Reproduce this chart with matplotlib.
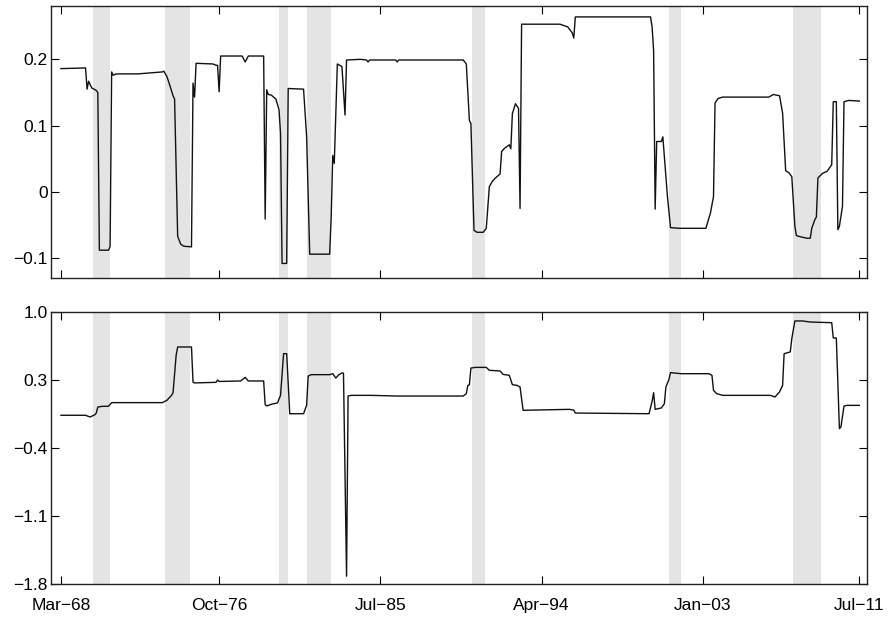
import matplotlib
matplotlib.use("Agg")
import matplotlib.pyplot as plt

plt.rcParams['font.family'] = ['Liberation Sans', 'DejaVu Sans']

# months counted from Mar-68 (0) to Jul-11 (520)
top_months = [0, 16, 17, 18, 20, 23, 24, 25, 31, 32, 33, 34, 36, 50, 66, 67, 69, 71, 73, 74,
              76, 78, 80, 85, 86, 87, 88, 99, 101, 102, 103, 104, 118, 120, 122, 132, 133, 134,
              135, 137, 140, 142, 143, 144, 147, 148, 158, 160, 162, 175, 176, 177, 178, 180,
              183, 185, 186, 195, 199, 200, 201, 218, 219, 220, 262, 264, 266, 267, 269, 271,
              275, 277, 279, 281, 283, 286, 287, 289, 292, 293, 294, 296, 298, 299, 300, 325,
              330, 333, 334, 335, 384, 385, 386, 387, 388, 391, 392, 394, 395, 397, 403, 420,
              423, 425, 426, 428, 431, 461, 464, 466, 468, 470, 472, 474, 476, 478, 479, 482,
              486, 488, 489, 491, 492, 493, 496, 499, 502, 503, 505, 506, 507, 509, 510, 513, 520]
top_values = [0.186, 0.187, 0.155, 0.167, 0.157, 0.153, 0.150, -0.088, -0.088, -0.082, 0.181,
              0.176, 0.178, 0.178, 0.181, 0.182, 0.174, 0.160, 0.145, 0.140, -0.067, -0.079,
              -0.082, -0.083, 0.164, 0.143, 0.194, 0.193, 0.191, 0.191, 0.151, 0.205, 0.205,
              0.196, 0.205, 0.205, -0.041, 0.154, 0.147, 0.146, 0.140, 0.124, 0.088, -0.108,
              -0.108, 0.156, 0.155, 0.083, -0.094, -0.094, -0.037, 0.055, 0.043, 0.193, 0.189,
              0.116, 0.199, 0.200, 0.199, 0.196, 0.199, 0.199, 0.196, 0.199, 0.199, 0.193,
              0.108, 0.103, -0.058, -0.061, -0.061, -0.055, 0.008, 0.016, 0.021, 0.027, 0.061,
              0.066, 0.071, 0.065, 0.118, 0.133, 0.126, -0.025, 0.253, 0.253, 0.249, 0.240,
              0.232, 0.264, 0.264, 0.249, 0.213, -0.026, 0.076, 0.076, 0.083, 0.022, -0.007,
              -0.054, -0.055, -0.055, -0.032, -0.007, 0.134, 0.141, 0.143, 0.143, 0.147, 0.146,
              0.145, 0.119, 0.032, 0.029, 0.023, -0.052, -0.066, -0.068, -0.070, -0.070, -0.055,
              -0.042, -0.038, 0.021, 0.028, 0.031, 0.041, 0.136, 0.136, -0.057, -0.052, -0.022,
              0.136, 0.138, 0.137]

bottom_months = [0, 16, 19, 22, 23, 24, 27, 31, 33, 66, 69, 72, 73, 75, 76, 85, 86, 87, 101,
                 102, 103, 117, 120, 122, 132, 133, 134, 137, 141, 143, 145, 147, 149, 158, 160,
                 161, 163, 175, 177, 179, 181, 183, 184, 186, 187, 189, 202, 219, 262, 264, 265,
                 266, 267, 270, 277, 279, 286, 288, 292, 294, 297, 299, 301, 331, 334, 335, 383,
                 385, 386, 387, 391, 393, 394, 396, 397, 404, 422, 424, 425, 427, 431, 462, 465,
                 468, 470, 471, 475, 476, 478, 483, 488, 502, 503, 505, 507, 508, 510, 512, 520]
bottom_values = [-0.063, -0.063, -0.081, -0.058, -0.040, 0.022, 0.029, 0.030, 0.067, 0.067,
                 0.091, 0.142, 0.170, 0.554, 0.640, 0.640, 0.279, 0.270, 0.276, 0.300, 0.285,
                 0.290, 0.327, 0.290, 0.290, 0.046, 0.033, 0.050, 0.064, 0.142, 0.571, 0.571,
                 -0.047, -0.047, 0.040, 0.341, 0.355, 0.355, 0.365, 0.320, 0.355, 0.372, 0.370,
                 -1.720, 0.135, 0.142, 0.142, 0.135, 0.135, 0.160, 0.245, 0.250, 0.423, 0.430,
                 0.430, 0.400, 0.393, 0.358, 0.348, 0.252, 0.245, 0.228, -0.012, -0.002, -0.010,
                 -0.040, -0.047, 0.080, 0.170, -0.002, 0.012, 0.056, 0.228, 0.307, 0.376, 0.365,
                 0.365, 0.348, 0.194, 0.160, 0.142, 0.142, 0.125, 0.177, 0.245, 0.571, 0.589,
                 0.726, 0.908, 0.908, 0.897, 0.890, 0.733, 0.733, -0.200, -0.183, 0.032, 0.039,
                 0.039]

# NBER recessions (month index)
rec_start = [21, 68, 142, 160, 268, 396, 477]
rec_end = [32, 84, 148, 176, 276, 404, 495]

tick_months = [0, 103, 208, 313, 418, 520]
tick_labels = ['Mar\u221268', 'Oct\u221276', 'Jul\u221285', 'Apr\u221294', 'Jan\u221203', 'Jul\u221211']

top_ticks = [-0.1, 0, 0.1, 0.2]
top_tick_labels = ['\u22120.1', '0', '0.1', '0.2']
bottom_ticks = [-1.8, -1.1, -0.4, 0.3, 1.0]
bottom_tick_labels = ['\u22121.8', '\u22121.1', '\u22120.4', '0.3', '1.0']

fig = plt.figure(figsize=(8.9, 6.17), dpi=100)
ax1 = fig.add_axes([0.0573, 0.5494, 0.9169, 0.4409])
ax2 = fig.add_axes([0.0573, 0.0535, 0.9169, 0.4408])

for ax, xs, ys, yt, ytl, ylim in [(ax1, top_months, top_values, top_ticks, top_tick_labels, (-0.13, 0.2805)),
                                  (ax2, bottom_months, bottom_values, bottom_ticks, bottom_tick_labels, (-1.8, 1.0))]:
    for s, e in zip(rec_start, rec_end):
        ax.axvspan(s, e, color='#e4e4e4', lw=0, zorder=0)
    ax.plot(xs, ys, color='#111111', lw=1.0, zorder=2)
    ax.set_xlim(-6.5, 525)
    ax.set_ylim(*ylim)
    ax.set_yticks(yt)
    ax.set_yticklabels(ytl)
    ax.set_xticks(tick_months)
    ax.tick_params(direction='in', length=6, width=0.8, top=True, right=True,
                   labelsize=12.5, colors='black')
    ax.tick_params(axis='y', pad=2.5)
    ax.tick_params(axis='x', pad=10)
    for sp in ax.spines.values():
        sp.set_linewidth(1.0)
        sp.set_color('#222222')

ax1.set_xticklabels([])
ax2.set_xticklabels(tick_labels)

fig.savefig('out.png', dpi=100)
